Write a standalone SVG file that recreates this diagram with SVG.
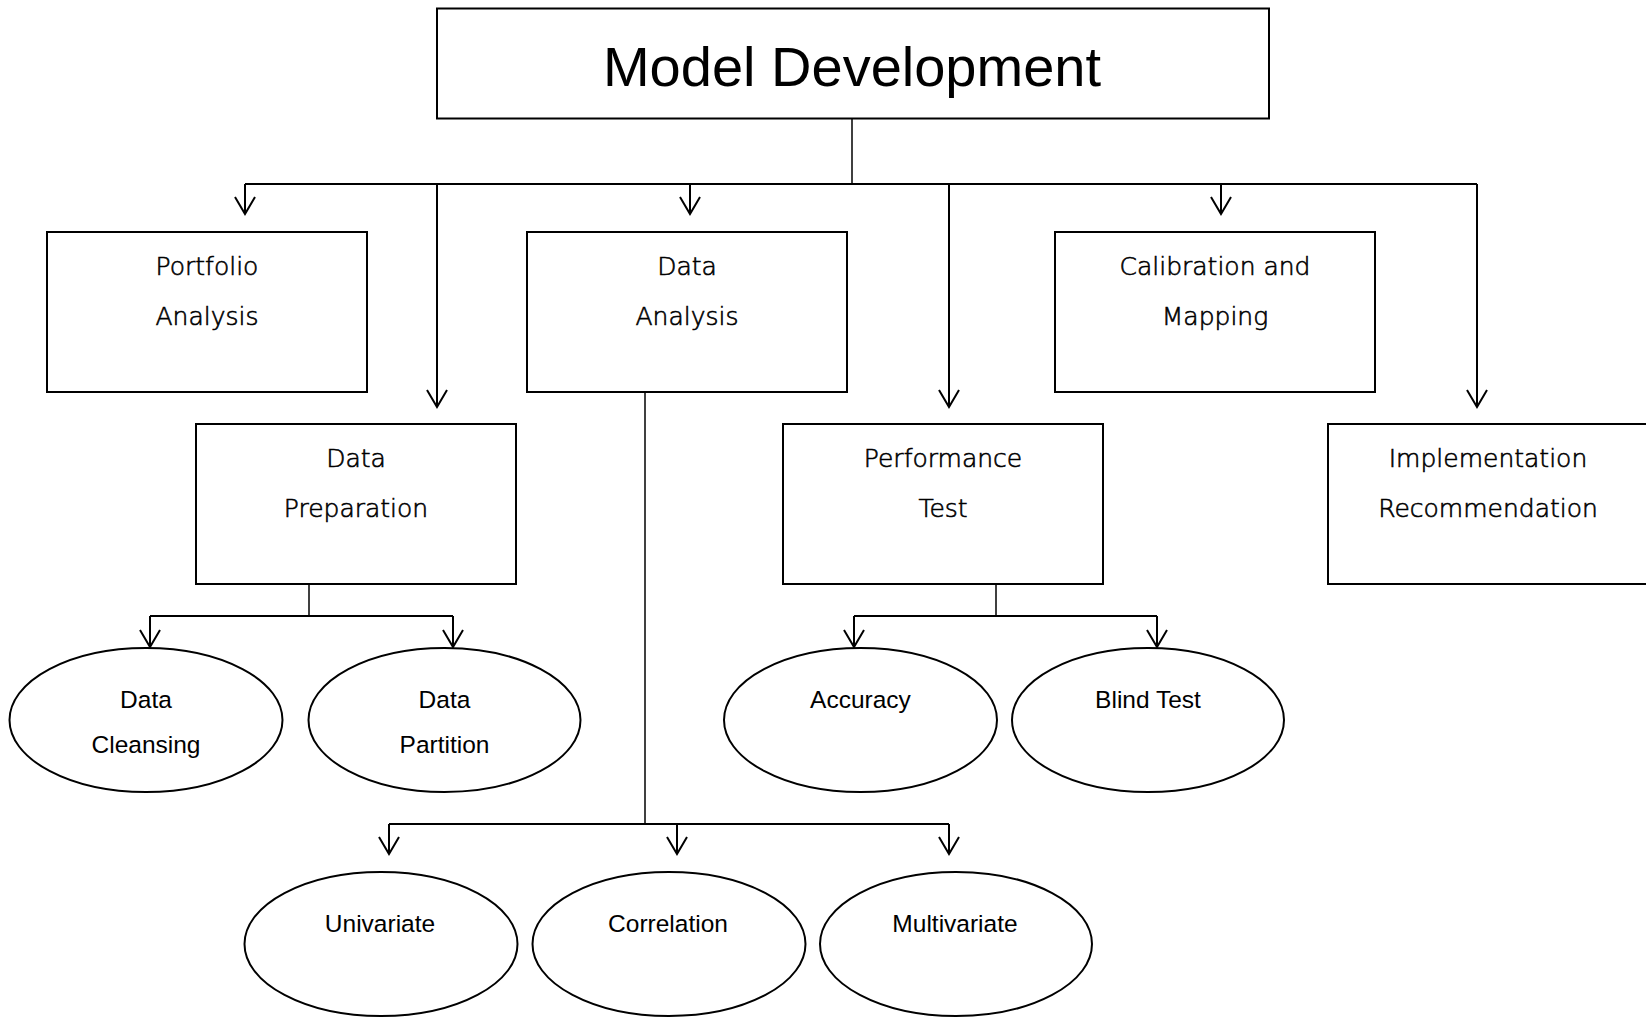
<svg xmlns="http://www.w3.org/2000/svg" width="1646" height="1019" viewBox="0 0 1646 1019">
  <style>
    .box { fill: #fff; stroke: #000; stroke-width: 2; }
    .oval { fill: #fff; stroke: #000; stroke-width: 2; }
    .title { font-family: "Liberation Sans", Arial, sans-serif; font-size: 56px; fill: #000; text-anchor: middle; }
    .lbl { font-family: "DejaVu Sans", "Liberation Sans", sans-serif; font-weight: 300; font-size: 25px; fill: #000; stroke: #000; stroke-width: 0.6px; text-anchor: middle; }
    .olbl { font-family: "Liberation Sans", Arial, sans-serif; font-size: 24.5px; fill: #000; text-anchor: middle; }
    .wire { fill: none; stroke: #000; stroke-width: 2; }
    .stub { fill: none; stroke: #000; stroke-width: 1.5; }
    .arrow { fill: none; stroke: #000; stroke-width: 2; marker-end: url(#vhead); }
  </style>
  <defs>
    <marker id="vhead" markerUnits="userSpaceOnUse" markerWidth="40" markerHeight="40" refX="0" refY="0" orient="auto" overflow="visible">
      <path d="M-17,-10 L0,0 L-17,10" fill="none" stroke="#000" stroke-width="2"/>
    </marker>
  </defs>

  <rect width="1646" height="1019" fill="#fff"/>

  <!-- connectors -->
  <g id="connectors">
    <path class="stub" d="M852,119 V184"/>
    <path class="wire" d="M245,184 H1477"/>
    <path class="arrow" d="M245,184 V214"/>
    <path class="arrow" d="M437,184 V407"/>
    <path class="arrow" d="M690,184 V214"/>
    <path class="arrow" d="M949,184 V407"/>
    <path class="arrow" d="M1221,184 V214"/>
    <path class="arrow" d="M1477,184 V407"/>

    <path class="stub" d="M309,584 V616"/>
    <path class="wire" d="M150,616 H453"/>
    <path class="arrow" d="M150,616 V647"/>
    <path class="arrow" d="M453,616 V647"/>

    <path class="stub" d="M645,392 V824"/>
    <path class="wire" d="M389,824 H949"/>
    <path class="arrow" d="M389,824 V854"/>
    <path class="arrow" d="M677,824 V854"/>
    <path class="arrow" d="M949,824 V854"/>

    <path class="stub" d="M996,584 V616"/>
    <path class="wire" d="M854,616 H1157"/>
    <path class="arrow" d="M854,616 V647"/>
    <path class="arrow" d="M1157,616 V647"/>
  </g>

  <!-- boxes -->
  <g id="model-development">
    <rect class="box" x="437" y="8.5" width="832" height="110"/>
    <text class="title" x="852" y="86">Model Development</text>
  </g>
  <g id="portfolio-analysis">
    <rect class="box" x="47" y="232" width="320" height="160"/>
    <text class="lbl" x="207" y="275">Portfolio</text>
    <text class="lbl" x="207" y="325">Analysis</text>
  </g>
  <g id="data-analysis">
    <rect class="box" x="527" y="232" width="320" height="160"/>
    <text class="lbl" x="687" y="275">Data</text>
    <text class="lbl" x="687" y="325">Analysis</text>
  </g>
  <g id="calibration-mapping">
    <rect class="box" x="1055" y="232" width="320" height="160"/>
    <text class="lbl" x="1215" y="275">Calibration and</text>
    <text class="lbl" x="1215" y="325">Mapping</text>
  </g>
  <g id="data-preparation">
    <rect class="box" x="196" y="424" width="320" height="160"/>
    <text class="lbl" x="356" y="467">Data</text>
    <text class="lbl" x="356" y="517">Preparation</text>
  </g>
  <g id="performance-test">
    <rect class="box" x="783" y="424" width="320" height="160"/>
    <text class="lbl" x="943" y="467">Performance</text>
    <text class="lbl" x="943" y="517">Test</text>
  </g>
  <g id="implementation-recommendation">
    <rect class="box" x="1328" y="424" width="320" height="160"/>
    <text class="lbl" x="1488" y="467">Implementation</text>
    <text class="lbl" x="1488" y="517">Recommendation</text>
  </g>

  <!-- ovals -->
  <g id="data-cleansing">
    <ellipse class="oval" cx="146" cy="720" rx="136.5" ry="72"/>
    <text class="olbl" x="146" y="707.5">Data</text>
    <text class="olbl" x="146" y="752.5">Cleansing</text>
  </g>
  <g id="data-partition">
    <ellipse class="oval" cx="444.5" cy="720" rx="136" ry="72"/>
    <text class="olbl" x="444.5" y="707.5">Data</text>
    <text class="olbl" x="444.5" y="752.5">Partition</text>
  </g>
  <g id="accuracy">
    <ellipse class="oval" cx="860.5" cy="720" rx="136.5" ry="72"/>
    <text class="olbl" x="860.5" y="707.5">Accuracy</text>
  </g>
  <g id="blind-test">
    <ellipse class="oval" cx="1148" cy="720" rx="136" ry="72"/>
    <text class="olbl" x="1148" y="707.5">Blind Test</text>
  </g>
  <g id="univariate">
    <ellipse class="oval" cx="381" cy="944" rx="136.5" ry="72"/>
    <text class="olbl" x="380" y="931.5">Univariate</text>
  </g>
  <g id="correlation">
    <ellipse class="oval" cx="669" cy="944" rx="136.5" ry="72"/>
    <text class="olbl" x="668" y="931.5">Correlation</text>
  </g>
  <g id="multivariate">
    <ellipse class="oval" cx="956" cy="944" rx="136" ry="72"/>
    <text class="olbl" x="955" y="931.5">Multivariate</text>
  </g>
</svg>
